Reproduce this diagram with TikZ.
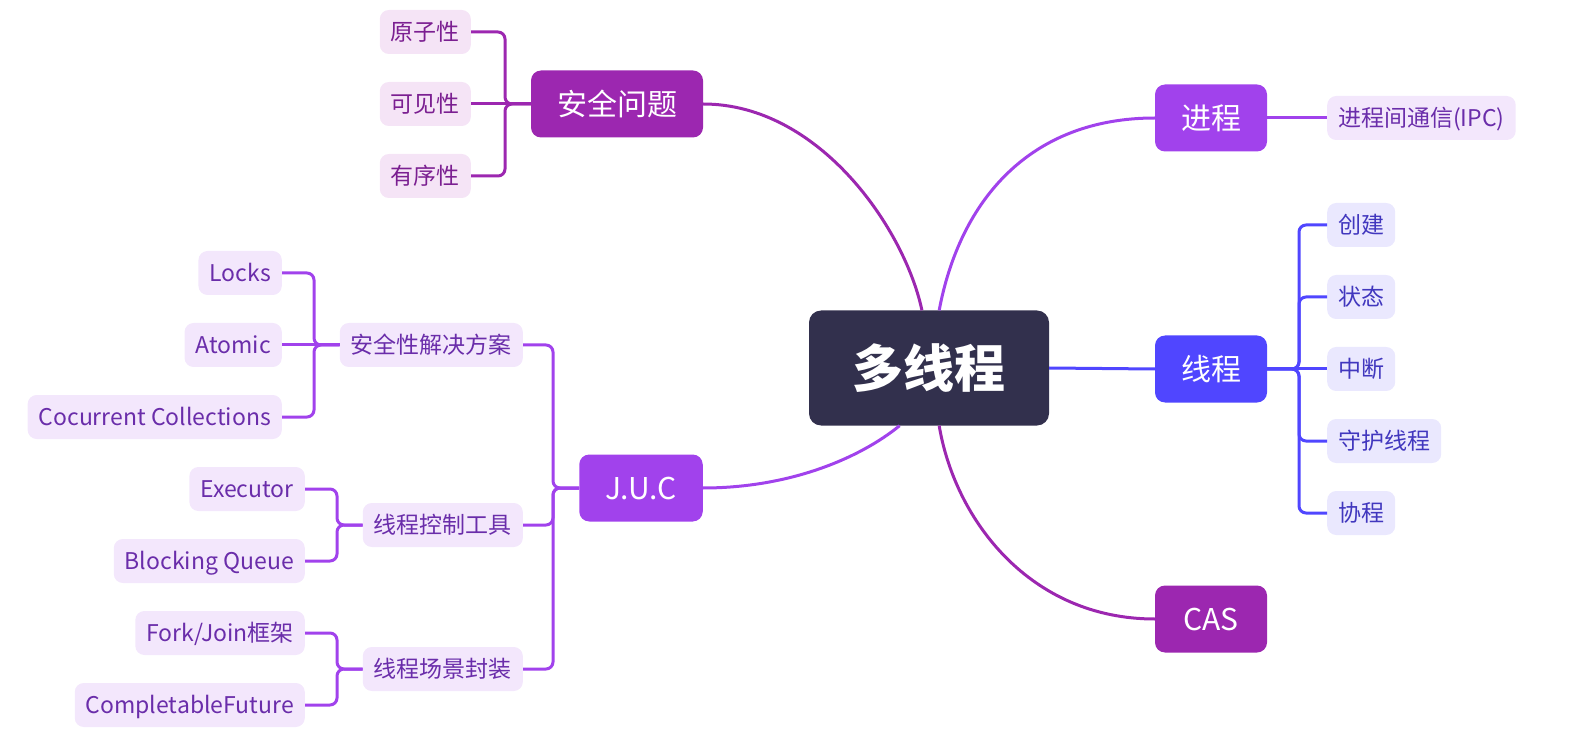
\documentclass[tikz,border=0pt]{standalone}
\usepackage{fontspec}
\setmainfont{Noto Sans CJK SC}
\usepackage{tikz}
\usetikzlibrary{positioning,calc}
\definecolor{rootink}{RGB}{50,48,77}
\definecolor{plum}{RGB}{156,39,176}
\definecolor{lilac}{RGB}{161,66,236}
\definecolor{indigo}{RGB}{80,70,255}
\definecolor{plumleaf}{RGB}{245,228,246}
\definecolor{plumtext}{RGB}{123,31,145}
\definecolor{lilacleaf}{RGB}{243,231,252}
\definecolor{lilactext}{RGB}{106,45,170}
\definecolor{indigoleaf}{RGB}{234,232,254}
\definecolor{indigotext}{RGB}{65,55,190}
\tikzset{
  rootbox/.style={rectangle, rounded corners=12pt, fill=rootink, text=white,
    font=\fontsize{51}{51}\selectfont\bfseries, minimum width=240pt, minimum height=115pt},
  branch/.style={rectangle, rounded corners=10pt, fill=#1, text=white,
    font=\fontsize{30}{30}\selectfont, minimum width=112pt, minimum height=67pt,
    inner xsep=26pt, text height=24.6pt, text depth=2.4pt},
  leaf/.style 2 args={rectangle, rounded corners=9pt, fill=#1, text=#2,
    font=\fontsize{23}{23}\selectfont, minimum height=44pt, inner xsep=11pt,
    text height=18.9pt, text depth=1.9pt},
  link/.style={draw=#1, line width=3pt},
}
\begin{document}
\begin{tikzpicture}[x=1pt, y=-1pt]
\useasboundingbox (0,0) rectangle (1575,735);
% central topic and main branches
\node[rootbox] (root) at (929,368) {多线程};
\node[branch=plum] (anquan) at (617,104) {安全问题};
\node[branch=lilac] (jincheng) at (1211,118) {进程};
\node[branch=indigo] (xiancheng) at (1211,369) {线程};
\node[branch=plum] (cas) at (1211,619) {CAS};
\node[branch=lilac] (juc) at (641,488) {J.U.C};
% curved links from the centre
\draw[link=plum] (anquan.east) .. controls (820,104) and (905,230) .. (root.97);
\draw[link=lilac] (root.80) .. controls (960,200) and (1030,118) .. (jincheng.west);
\draw[link=indigo] (root.east) -- (xiancheng.west);
\draw[link=plum] (root.-80) .. controls (955,520) and (1030,619) .. (cas.west);
\draw[link=lilac] (root.243) .. controls (860,458) and (790,488) .. (juc.east);
% safety problems
\foreach \t [count=\i] in {原子性,可见性,有序性}
  \node[leaf={plumleaf}{plumtext}, anchor=east] (aq\i) at (471,-40+72*\i) {\t};
\coordinate (aqbar) at (505,104);
\foreach \i in {1,3}
  \draw[link=plum, rounded corners=7pt] (anquan.west) -- (aqbar) |- (aq\i.east);
\draw[link=plum] (anquan.west) -- (aq2.east);
% process
\node[leaf={lilacleaf}{lilactext}, anchor=west] (ipc) at (1327,118) {进程间通信(IPC)};
\draw[link=lilac] (jincheng.east) -- (ipc.west);
% thread
\foreach \t [count=\i] in {创建,状态,中断,守护线程,协程}
  \node[leaf={indigoleaf}{indigotext}, anchor=west] (xc\i) at (1327,153+72*\i) {\t};
\coordinate (xcbar) at (1299,369);
\foreach \i in {1,2,4,5}
  \draw[link=indigo, rounded corners=7pt] (xiancheng.east) -- (xcbar) |- (xc\i.west);
\draw[link=indigo] (xiancheng.east) -- (xc3.west);
% J.U.C
\node[leaf={lilacleaf}{lilactext}, anchor=east] (jiejue) at (523,345) {安全性解决方案};
\node[leaf={lilacleaf}{lilactext}, anchor=east] (kongzhi) at (523,525) {线程控制工具};
\node[leaf={lilacleaf}{lilactext}, anchor=east] (fengzhuang) at (523,669) {线程场景封装};
\coordinate (jucbar) at (553,488);
\foreach \n in {jiejue,kongzhi,fengzhuang}
  \draw[link=lilac, rounded corners=7pt] (juc.west) -- (jucbar) |- (\n.east);
% solutions
\foreach \t [count=\i] in {Locks,Atomic,Cocurrent Collections}
  \node[leaf={lilacleaf}{lilactext}, anchor=east] (js\i) at (282,201+72*\i) {\t};
\coordinate (jsbar) at (314,345);
\foreach \i in {1,3}
  \draw[link=lilac, rounded corners=7pt] (jiejue.west) -- (jsbar) |- (js\i.east);
\draw[link=lilac] (jiejue.west) -- (js2.east);
% control tools
\foreach \t [count=\i] in {Executor,Blocking Queue}
  \node[leaf={lilacleaf}{lilactext}, anchor=east] (kz\i) at (305,417+72*\i) {\t};
\coordinate (kzbar) at (337,525);
\foreach \i in {1,2}
  \draw[link=lilac, rounded corners=7pt] (kongzhi.west) -- (kzbar) |- (kz\i.east);
% scene wrappers
\foreach \t [count=\i] in {Fork/Join框架,CompletableFuture}
  \node[leaf={lilacleaf}{lilactext}, anchor=east] (fz\i) at (305,561+72*\i) {\t};
\coordinate (fzbar) at (337,669);
\foreach \i in {1,2}
  \draw[link=lilac, rounded corners=7pt] (fengzhuang.west) -- (fzbar) |- (fz\i.east);
\end{tikzpicture}
\end{document}
